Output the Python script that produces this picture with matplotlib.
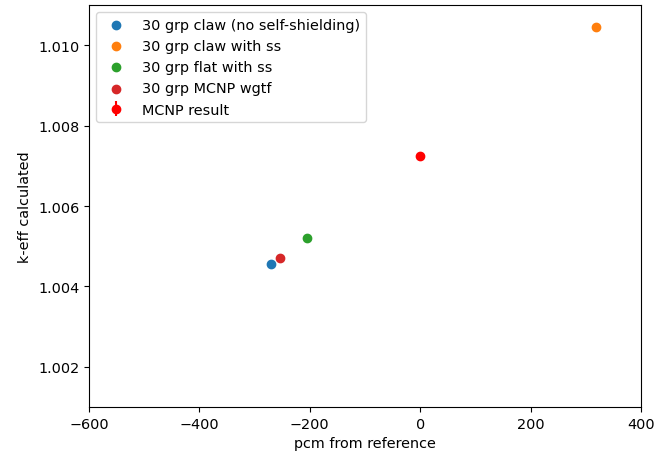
import matplotlib
matplotlib.use("Agg")
import matplotlib.pyplot as plt

plt.rcParams["font.size"] = 10.35

labels = ["30 grp claw (no self-shielding)", "30 grp claw with ss",
          "30 grp flat with ss", "30 grp MCNP wgtf"]
pcm = [-270, 319, -205, -254]
keff = [1.00456, 1.01044, 1.00520, 1.00471]

mcnp_pcm = 0
mcnp_keff = 1.00725
mcnp_err = 0.00002

fig = plt.figure(figsize=(6.54, 4.56), dpi=100)
ax = fig.add_axes([0.136, 0.105, 0.844, 0.882])

for x, y, lab in zip(pcm, keff, labels):
    ax.scatter(x, y, label=lab)

ax.errorbar(mcnp_pcm, mcnp_keff, yerr=mcnp_err, fmt="o", color="red", label="MCNP result")

ax.set_xlim(-600, 400)
ax.set_ylim(1.001, 1.011)
ax.set_xlabel("pcm from reference")
ax.set_ylabel("k-eff calculated")
ax.legend(loc="upper left")

fig.savefig("out.png", dpi=100)
